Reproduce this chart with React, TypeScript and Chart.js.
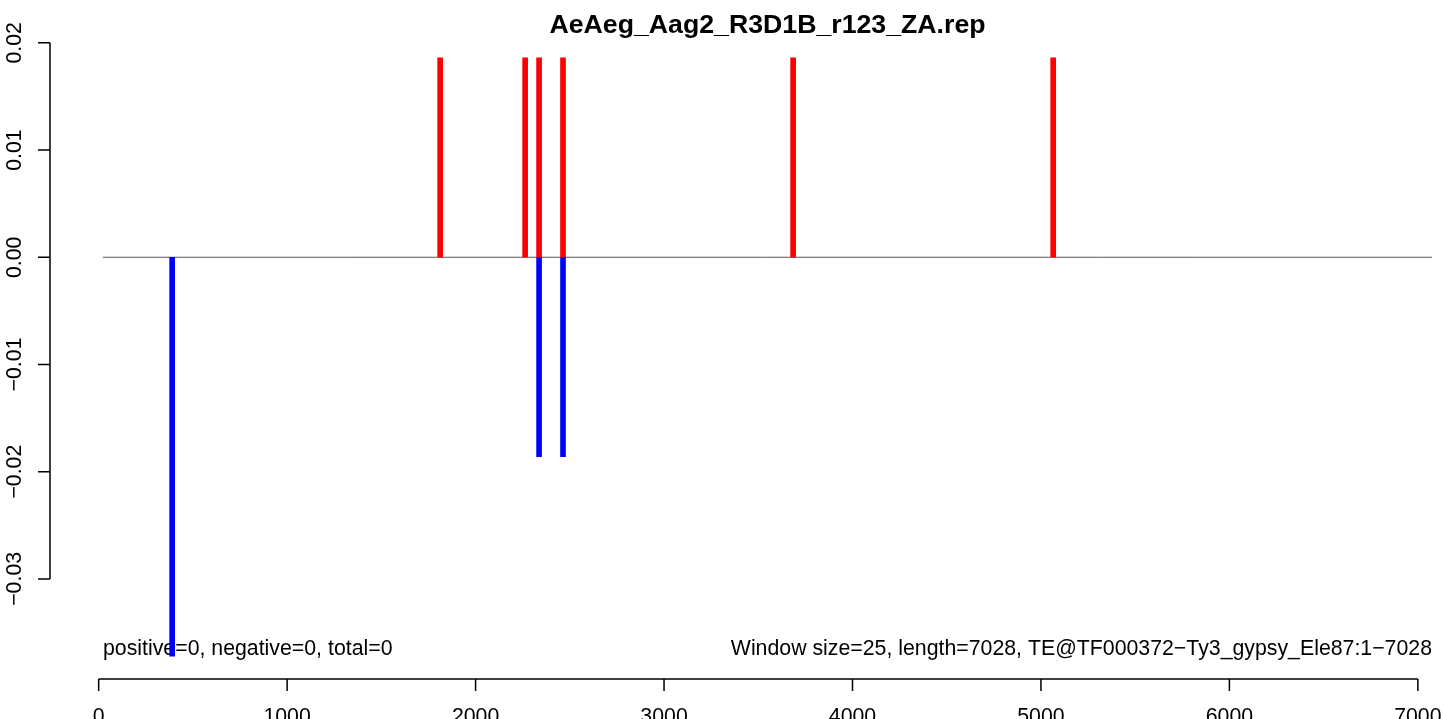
import React, { useEffect, useRef } from "react";
import { Chart, registerables } from "chart.js";

Chart.register(...registerables);

const TITLE = "AeAeg_Aag2_R3D1B_r123_ZA.rep";
const LEFT_TEXT = "positive=0, negative=0, total=0";
const RIGHT_TEXT = "Window size=25, length=7028, TE@TF000372\u2212Ty3_gypsy_Ele87:1\u22127028";

const positivePositions = [1812, 2263, 2337, 2464, 3685, 5065];
const positiveValues = [0.0186, 0.0186, 0.0186, 0.0186, 0.0186, 0.0186];
const negativePositions = [390, 2337, 2464];
const negativeValues = [-0.0372, -0.0186, -0.0186];

const xTicks = [0, 1000, 2000, 3000, 4000, 5000, 6000, 7000];
const xTickLabels = ["0", "1000", "2000", "3000", "4000", "5000", "6000", "7000"];
const yTicks = [0.02, 0.01, 0, -0.01, -0.02, -0.03];
const yTickLabels = ["0.02", "0.01", "0.00", "\u22120.01", "\u22120.02", "\u22120.03"];

const X_RANGE = [23, 7075];
const Y_RANGE = [-0.0385, 0.0212];

const FONT = '"Liberation Sans", Arial, Helvetica, sans-serif';

const rPlot = {
  id: "rPlot",
  beforeDatasetsDraw(chart: any) {
    const ctx = chart.ctx;
    const xs = chart.scales.x;
    const ys = chart.scales.y;
    const area = chart.chartArea;
    ctx.save();
    ctx.strokeStyle = "#555555";
    ctx.lineWidth = 1;
    const y0 = ys.getPixelForValue(0);
    ctx.beginPath();
    ctx.moveTo(xs.getPixelForValue(X_RANGE[0]), y0);
    ctx.lineTo(xs.getPixelForValue(X_RANGE[1]), y0);
    ctx.stroke();
    ctx.fillStyle = "#000";
    ctx.font = `21.3px ${FONT}`;
    ctx.textBaseline = "alphabetic";
    ctx.textAlign = "left";
    ctx.fillText(LEFT_TEXT, area.left, 655);
    ctx.textAlign = "right";
    ctx.fillText(RIGHT_TEXT, area.right, 655);
    ctx.restore();
  },
  afterDraw(chart: any) {
    const ctx = chart.ctx;
    const xs = chart.scales.x;
    const ys = chart.scales.y;
    const area = chart.chartArea;
    ctx.save();
    ctx.strokeStyle = "#000";
    ctx.fillStyle = "#000";
    ctx.lineWidth = 1.5;
    ctx.font = `bold 26.7px ${FONT}`;
    ctx.textAlign = "center";
    ctx.textBaseline = "alphabetic";
    ctx.fillText(TITLE, (area.left + area.right) / 2, 33);

    const axX = 50;
    const yTop = ys.getPixelForValue(yTicks[0]);
    const yBot = ys.getPixelForValue(yTicks[yTicks.length - 1]);
    ctx.beginPath();
    ctx.moveTo(axX, yTop);
    ctx.lineTo(axX, yBot);
    yTicks.forEach((t) => {
      const p = ys.getPixelForValue(t);
      ctx.moveTo(axX, p);
      ctx.lineTo(axX - 12, p);
    });
    ctx.stroke();
    ctx.font = `21.3px ${FONT}`;
    yTicks.forEach((t, i) => {
      const p = ys.getPixelForValue(t);
      ctx.save();
      ctx.translate(21, p);
      ctx.rotate(-Math.PI / 2);
      ctx.textAlign = "center";
      ctx.textBaseline = "alphabetic";
      ctx.fillText(yTickLabels[i], 0, 0);
      ctx.restore();
    });

    const axY = 679;
    const xL = xs.getPixelForValue(xTicks[0]);
    const xR = xs.getPixelForValue(xTicks[xTicks.length - 1]);
    ctx.beginPath();
    ctx.moveTo(xL, axY);
    ctx.lineTo(xR, axY);
    xTicks.forEach((t) => {
      const p = xs.getPixelForValue(t);
      ctx.moveTo(p, axY);
      ctx.lineTo(p, axY + 12);
    });
    ctx.stroke();
    ctx.textAlign = "center";
    ctx.textBaseline = "alphabetic";
    xTicks.forEach((t, i) => {
      const p = xs.getPixelForValue(t);
      ctx.fillText(xTickLabels[i], p, 723);
    });
    ctx.restore();
  },
};

export default function App() {
  const ref = useRef<HTMLCanvasElement | null>(null);
  useEffect(() => {
    document.body.style.margin = "0";
    document.body.style.background = "#fff";
    if (!ref.current) return;
    const chart = new Chart(ref.current, {
      type: "bar",
      data: {
        datasets: [
          {
            label: "positive",
            data: positivePositions.map((x, i) => ({ x, y: positiveValues[i] })),
            backgroundColor: "#ff0000",
            borderWidth: 0,
            barThickness: 5,
            grouped: false,
          } as any,
          {
            label: "negative",
            data: negativePositions.map((x, i) => ({ x, y: negativeValues[i] })),
            backgroundColor: "#0000ff",
            borderWidth: 0,
            barThickness: 5,
            grouped: false,
          } as any,
        ],
      },
      options: {
        responsive: false,
        animation: false,
        events: [],
        layout: { padding: { left: 103, right: 12, top: 30, bottom: 49 } },
        plugins: {
          legend: { display: false },
          tooltip: { enabled: false },
          title: { display: false },
        },
        scales: {
          x: { type: "linear", min: X_RANGE[0], max: X_RANGE[1], display: false, offset: false },
          y: { type: "linear", min: Y_RANGE[0], max: Y_RANGE[1], display: false },
        },
      },
      plugins: [rPlot],
    });
    return () => chart.destroy();
  }, []);
  return <canvas ref={ref} width={1444} height={719} style={{ display: "block" }} />;
}
